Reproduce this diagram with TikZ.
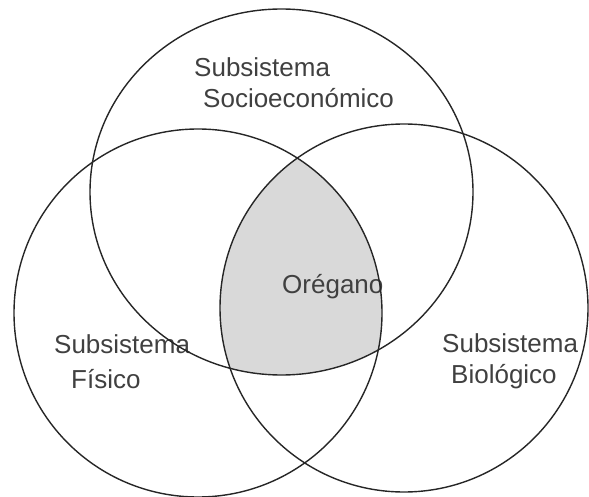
\documentclass[tikz,border=0pt]{standalone}
\usepackage{fontspec}
\setmainfont{Liberation Sans}
\begin{document}
\begin{tikzpicture}[x=1pt,y=-1pt,
  venn/.style={line width=1.4pt, draw=black!85},
  core/.style={fill=black!15},
  lbl/.style={anchor=base west, inner sep=0pt, text=black!75, font=\fontsize{26}{31}\selectfont}]
\useasboundingbox (0,0) rectangle (589,497);
% shaded triple intersection
\begin{scope}
  \clip (281.5,192) ellipse [x radius=191.5, y radius=183];
  \clip (198,313) circle [radius=184];
  \fill[core] (404,308) circle [radius=184];
\end{scope}
% labels
\node[lbl] (s1) at (194,77) {Subsistema};
\node[lbl] (s2) at (203,108) {Socioeconómico};
\node[lbl] (o)  at (282,293) {Orégano};
\node[lbl] (f1) at (54,353) {Subsistema};
\node[lbl] (f2) at (71,388) {Físico};
\node[lbl] (b1) at (442,352) {Subsistema};
\node[lbl] (b2) at (451,383) {Biológico};
% circles
\draw[venn] (281.5,192) ellipse [x radius=191.5, y radius=183];
\draw[venn] (198,313) circle [radius=184];
\draw[venn] (404,308) circle [radius=184];
\end{tikzpicture}
\end{document}
